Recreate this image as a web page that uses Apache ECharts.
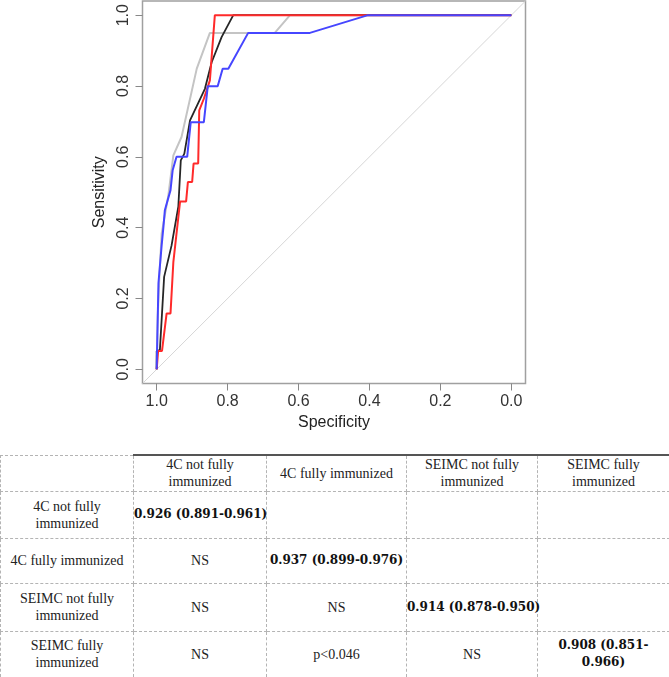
<!DOCTYPE html>
<html><head><meta charset="utf-8">
<script src="https://cdn.jsdelivr.net/npm/echarts@6/dist/echarts.min.js"></script>
<style>
html,body{margin:0;padding:0;background:#fff;width:669px;height:677px;overflow:hidden}
#chart{position:absolute;left:0;top:0;width:669px;height:450px}
#tbl{position:absolute;left:0;top:454px;width:669px;border-collapse:collapse;table-layout:fixed;font-family:"Liberation Serif",serif;font-size:14px;color:#222}
#tbl td{border:1px dashed #b4b4b4;text-align:center;vertical-align:middle;white-space:pre;padding:0;line-height:17px;overflow:visible}
#tbl td.b{font-family:"DejaVu Serif",serif;font-weight:bold;font-size:12px;color:#111}
</style></head><body>
<div id="chart"></div>
<table id="tbl"></table>
<script>
// ---- ROC data (specificity, sensitivity) ----
const xTicks = [0, 0.2, 0.4, 0.6, 0.8, 1.0];
const yTicks = [0, 0.2, 0.4, 0.6, 0.8, 1.0];

const graySpec = [1.000,0.997,0.992,0.986,0.967,0.953,0.930,0.887,0.850,0.667,0.624,0.000];
const graySens = [0.000,0.150,0.270,0.383,0.492,0.604,0.656,0.849,0.950,0.950,1.000,1.000];

const blackSpec = [1.000,1.000,0.991,0.979,0.958,0.939,0.932,0.922,0.906,0.864,0.845,0.817,0.784,0.000];
const blackSens = [0.000,0.052,0.054,0.261,0.350,0.459,0.590,0.609,0.703,0.792,0.867,0.938,1.000,1.000];

const redSpec = [1.000,0.996,0.985,0.972,0.961,0.953,0.934,0.917,0.912,0.900,0.896,0.883,0.880,0.867,0.850,0.836,0.000];
const redSens = [0.000,0.052,0.052,0.158,0.158,0.303,0.474,0.474,0.529,0.529,0.581,0.581,0.731,0.764,0.816,1.000,1.000];

const blueSpec = [1.000,0.998,0.995,0.986,0.981,0.977,0.961,0.955,0.944,0.914,0.904,0.867,0.856,0.828,0.814,0.798,0.742,0.568,0.404,0.000];
const blueSens = [0.000,0.100,0.243,0.350,0.402,0.449,0.506,0.562,0.600,0.600,0.698,0.698,0.799,0.799,0.849,0.849,0.950,0.950,1.000,1.000];

const diagSpec = [1.04, -0.04];
const diagSens = [-0.04, 1.04];

// ---- table data ----
const colHeaders = ['', '4C not fully\nimmunized', '4C fully immunized', 'SEIMC not fully\nimmunized', 'SEIMC fully\nimmunized'];
const rowHeaders = ['4C not fully\nimmunized', '4C fully immunized', 'SEIMC not fully\nimmunized', 'SEIMC fully\nimmunized'];
const cellValues = [
  ['0.926 (0.891-0.961)', '', '', ''],
  ['NS', '0.937 (0.899-0.976)', '', ''],
  ['NS', 'NS', '0.914 (0.878-0.950)', ''],
  ['NS', 'p<0.046', 'NS', '0.908 (0.851-\n0.966)']
];

function pts(s, v) { return s.map((x, i) => [x, v[i]]); }
function lineSeries(s, v, color, w, z) {
  return {type:'line', data:pts(s, v), showSymbol:false, symbol:'none', z:z,
    lineStyle:{color:color, width:w}, itemStyle:{color:color}, silent:true};
}

const chart = echarts.init(document.getElementById('chart'), null, {renderer:'canvas'});
const axisFont = 'Liberation Sans, Arial, sans-serif';
chart.setOption({
  animation:false,
  grid:{left:142.5, top:1, width:383, height:382.5, show:true, borderColor:'#a0a0a0', borderWidth:1.5, backgroundColor:'transparent'},
  xAxis:{type:'value', min:-0.04, max:1.04, inverse:true,
    axisLine:{show:false, onZero:false},
    axisTick:{show:true, length:7, lineStyle:{color:'#888', width:1}, customValues:xTicks},
    axisLabel:{customValues:xTicks, formatter:v => Number(v).toFixed(1), margin:10, fontSize:16, color:'#333', fontFamily:axisFont},
    splitLine:{show:false},
    name:'Specificity', nameLocation:'middle', nameGap:30,
    nameTextStyle:{fontSize:16, color:'#222', fontFamily:axisFont}},
  yAxis:{type:'value', min:-0.04, max:1.04,
    axisLine:{show:false, onZero:false},
    axisTick:{show:true, length:7, lineStyle:{color:'#888', width:1}, customValues:yTicks},
    axisLabel:{customValues:yTicks, formatter:v => Number(v).toFixed(1), margin:11, rotate:90, fontSize:16, color:'#333', fontFamily:axisFont},
    splitLine:{show:false},
    name:'Sensitivity', nameLocation:'middle', nameGap:24, nameRotate:90,
    nameTextStyle:{fontSize:16, color:'#222', fontFamily:axisFont}},
  series:[
    lineSeries(diagSpec, diagSens, '#d6d6d6', 1, 1),
    lineSeries(graySpec, graySens, '#c4c4c4', 2, 2),
    lineSeries(blackSpec, blackSens, '#262626', 1.8, 3),
    lineSeries(redSpec, redSens, '#ff2a2a', 2, 4),
    lineSeries(blueSpec, blueSens, '#4646ff', 2, 5)
  ]
});

// ---- build table ----
const colWidths = [133, 133, 140, 131, 132];
const rowHeights = [36, 47, 45, 48, 47];
const tbl = document.getElementById('tbl');
const cg = document.createElement('colgroup');
colWidths.forEach(w => { const c = document.createElement('col'); c.style.width = w + 'px'; cg.appendChild(c); });
tbl.appendChild(cg);
const hr = document.createElement('tr');
hr.style.height = rowHeights[0] + 'px';
colHeaders.forEach((h, j) => {
  const td = document.createElement('td');
  td.textContent = h;
  if (j > 0) td.style.borderTop = '2px solid #555';
  hr.appendChild(td);
});
tbl.appendChild(hr);
rowHeaders.forEach((rh, i) => {
  const tr = document.createElement('tr');
  tr.style.height = rowHeights[i + 1] + 'px';
  const th = document.createElement('td');
  th.textContent = rh;
  tr.appendChild(th);
  cellValues[i].forEach((v, j) => {
    const td = document.createElement('td');
    td.textContent = v;
    if (i === j) td.className = 'b';
    tr.appendChild(td);
  });
  if (i === rowHeaders.length - 1) {
    Array.from(tr.children).forEach(td => td.style.borderBottom = '2px solid #444');
  }
  tbl.appendChild(tr);
});
</script>
</body></html>
